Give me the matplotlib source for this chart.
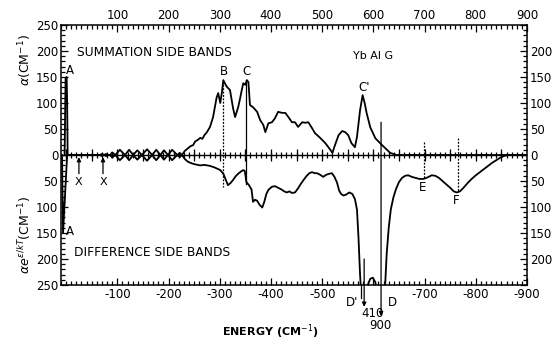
import numpy as np
import matplotlib
matplotlib.use("Agg")
import matplotlib.pyplot as plt
from matplotlib.ticker import MultipleLocator

plt.rcParams['font.family'] = ['DejaVu Sans']
plt.rcParams['mathtext.fontset'] = 'dejavusans'

# ---------------- data (energy in cm^-1, absorption in cm^-1) ----------------
# fringe pattern common to both spectra (low-energy interference)
fringe_E = [66, 70, 74, 78, 82, 86, 90, 96, 105, 115, 123, 131, 139, 148, 158, 168,
            176, 184, 191, 199, 207, 217, 222, 226]
fringe_a = [0, 2, 0, 2, 0, 0, 5, 0, 10, 0, 10, 0, 9, 0, 11, 0,
            10, 0, 9, 0, 10, 0, 4, 0]

sum_E_head = [-3, -1, 1, 2, 3, 10, 25, 40, 55]
sum_a_head = [0, 148, 150, 100, 0, 0, 0, 0, 0]
sum_E_tail = [232, 238, 243, 248, 252, 257, 262, 266, 270, 275, 281, 287, 291, 294,
              297, 301, 304, 307, 310, 314, 320, 326, 330, 336, 340, 343, 346, 350,
              353, 356, 359, 365, 373, 379, 385, 389, 395, 402, 408, 414, 422, 428,
              434, 441, 447, 453, 461, 467, 473, 480, 486, 496, 506, 516, 520, 525,
              532, 539, 545, 551, 557, 564, 568, 574, 579, 583, 587, 594, 604, 617,
              633, 645, 900]
sum_a_tail = [8, 13, 17, 19, 26, 29, 33, 31, 38, 44, 54, 73, 95, 111,
              119, 100, 119, 144, 138, 131, 125, 90, 73, 92, 110, 125, 138, 135,
              144, 140, 96, 92, 83, 67, 58, 44, 61, 63, 71, 83, 81, 81,
              73, 63, 63, 54, 63, 62, 63, 52, 42, 33, 23, 10, 4, 19,
              38, 46, 44, 38, 23, 15, 35, 86, 115, 100, 80, 53, 32, 19,
              4, 0, 0]

dif_E_head = [-8, -6, 2, 10, 25, 40, 55]
dif_a_head = [0, 150, 0, 0, 0, 0, 0]
dif_E_tail = [232, 238, 245, 252, 262, 270, 281, 290, 301, 307, 312, 316, 321, 326,
              331, 336, 341, 346, 349, 352, 357, 362, 365, 369, 373, 378, 383, 387,
              391, 395, 402, 408, 414, 420, 426, 431, 436, 441, 447, 453, 458, 463,
              469, 475, 480, 486, 490, 496, 502, 508, 514, 519, 524, 529, 533, 537,
              542, 547, 553, 559, 564, 568, 571, 574, 577, 584, 589, 594, 599, 604,
              608, 620, 623, 626, 630, 634, 639, 644, 650, 656, 662, 668, 675, 682,
              690, 698, 706, 714, 721, 728, 735, 742, 750, 757, 763, 769, 776, 784,
              792, 800, 808, 816, 824, 832, 840, 848, 855, 862, 900]
dif_a_tail = [8, 13, 16, 18, 20, 19, 21, 24, 29, 36, 48, 58, 54, 48,
              41, 36, 32, 29, 31, 52, 58, 66, 90, 86, 88, 96, 101, 90,
              75, 67, 61, 60, 63, 66, 70, 72, 70, 73, 72, 64, 56, 49,
              41, 35, 33, 35, 35, 38, 42, 38, 36, 35, 42, 53, 68, 75,
              78, 76, 72, 75, 85, 105, 160, 230, 280, 280, 250, 238, 236, 245,
              280, 280, 250, 190, 140, 105, 82, 66, 52, 44, 40, 39, 42, 44,
              46, 46, 43, 39, 40, 44, 50, 56, 63, 70, 72, 70, 63, 54,
              46, 39, 33, 27, 21, 15, 10, 5, 2, 0, 0]

sum_E = sum_E_head + fringe_E + sum_E_tail
sum_a = sum_a_head + fringe_a + sum_a_tail
dif_E = dif_E_head + fringe_E + dif_E_tail
dif_a = dif_a_head + fringe_a + dif_a_tail

top_ticks = [100, 200, 300, 400, 500, 600, 700, 800, 900]
top_labels = ['100', '200', '300', '400', '500', '600', '700', '800', '900']
bot_labels = ['-100', '-200', '-300', '-400', '-500', '', '-700', '-800', '-900']
left_ticks = [-250, -200, -150, -100, -50, 0, 50, 100, 150, 200, 250]
left_labels = ['250', '200', '150', '100', '50', '0', '50', '100', '150', '200', '250']
right_ticks = [-250, -200, -150, -100, -50, 0, 50, 100, 150, 200, 250]
right_labels = ['', '200', '150', '100', '50', '0', '50', '100', '150', '200', '']

# marker lines (energy, top end, bottom end)
dotted_marks = [(306, 142, -62), (698, 25, -46), (765, 32, -72)]
solid_marks = [(351, 144, -56)]
x_marks = [25, 72]

# ---------------- figure ----------------
W, H = 552, 341
fig = plt.figure(figsize=(W / 100, H / 100), dpi=100)
ax = fig.add_axes([61 / W, 1 - 285 / H, 466 / W, 260 / H])
ax.set_xlim(-10, 900)
ax.set_ylim(-250, 250)

lw = 1.3
ax.plot(sum_E, sum_a, color='black', lw=lw, solid_joinstyle='round')
ax.plot(dif_E, [-v for v in dif_a], color='black', lw=lw, solid_joinstyle='round')

# zero line with cross ticks
ax.axhline(0, color='black', lw=1.0)
xs_minor = np.arange(0, 900, 10)
ax.plot(xs_minor, np.zeros_like(xs_minor), ls='none', marker='|', ms=5,
        mew=0.9, color='black')
xs_major = np.arange(0, 900, 50)
ax.plot(xs_major, np.zeros_like(xs_major), ls='none', marker='|', ms=8,
        mew=0.9, color='black')

for e, y0, y1 in dotted_marks:
    ax.plot([e, e], [y0, y1], color='black', lw=0.9, ls=(0, (1.5, 1.2)))
for e, y0, y1 in solid_marks:
    ax.plot([e, e], [y0, y1], color='black', lw=0.9)

arrow = dict(arrowstyle='-|>', color='black', lw=0.9, mutation_scale=6,
             shrinkA=0, shrinkB=0)
for e in x_marks:
    ax.annotate('', xy=(e, -4), xytext=(e, -36), arrowprops=arrow)
    ax.text(e, -52, 'X', ha='center', va='center', fontsize=8)

# 410 and 900 arrows leaving the frame
ax.annotate('', xy=(582, -292), xytext=(582, -200), arrowprops=arrow,
            annotation_clip=False)
ax.annotate('', xy=(615, -310), xytext=(615, 63), arrowprops=arrow,
            annotation_clip=False)
ax.plot([576, 576], [-250, -275], color='black', lw=0.9, clip_on=False)

# labels
fs = 8.5
ax.text(8, 162, 'A', ha='center', va='center', fontsize=fs)
ax.text(7, -147, 'A', ha='center', va='center', fontsize=fs)
ax.text(309, 160, 'B', ha='center', va='center', fontsize=fs)
ax.text(353, 160, 'C', ha='center', va='center', fontsize=fs)
ax.text(582, 129, "C'", ha='center', va='center', fontsize=fs)
ax.text(697, -63, 'E', ha='center', va='center', fontsize=fs)
ax.text(762, -87, 'F', ha='center', va='center', fontsize=fs)
ax.text(22, 198, 'SUMMATION SIDE BANDS', ha='left', va='center', fontsize=8.8)
ax.text(15, -187, 'DIFFERENCE SIDE BANDS', ha='left', va='center', fontsize=8.8)
ax.text(600, 190, 'Yb Al G', ha='center', va='center', fontsize=8)
ax.text(558, -283, "D'", ha='center', va='center', fontsize=fs, clip_on=False)
ax.text(637, -283, 'D', ha='center', va='center', fontsize=fs, clip_on=False)
ax.text(598, -305, '410', ha='center', va='center', fontsize=fs, clip_on=False)
ax.text(613, -328, '900', ha='center', va='center', fontsize=fs, clip_on=False)

fig.text(270 / W, 1 - 332 / H, 'ENERGY (CM$^{-1}$)', ha='center', va='center',
         fontsize=8, fontweight='bold')
fig.text(25 / W, 1 - 60 / H, r'$\alpha$(CM$^{-1}$)', ha='center', va='center',
         rotation=90, fontsize=9)
fig.text(25 / W, 1 - 235 / H, r'$\alpha e^{\epsilon/kT}$(CM$^{-1}$)', ha='center',
         va='center', rotation=90, fontsize=9)

# axes / ticks
for s in ax.spines.values():
    s.set_linewidth(1.1)
ax.set_xticks(top_ticks)
ax.set_xticklabels(bot_labels)
ax.set_yticks(left_ticks)
ax.set_yticklabels(left_labels)
ax.xaxis.set_minor_locator(MultipleLocator(10))
ax.yaxis.set_minor_locator(MultipleLocator(10))
ax.tick_params(which='both', direction='in', top=True, right=True, labelsize=8.5,
               width=0.9, pad=2)
ax.tick_params(which='major', length=5)
ax.tick_params(which='minor', length=3)

secx = ax.secondary_xaxis('top')
secx.set_xticks(top_ticks)
secx.set_xticklabels(top_labels)
secx.xaxis.set_minor_locator(MultipleLocator(10))
secx.tick_params(which='both', direction='in', labelsize=8.5, length=0, pad=2)
secx.spines['top'].set_visible(False)

secy = ax.secondary_yaxis('right')
secy.set_yticks(right_ticks)
secy.set_yticklabels(right_labels)
secy.tick_params(which='both', direction='in', labelsize=8.5, length=0, pad=2)
secy.spines['right'].set_visible(False)

fig.savefig('out.png', dpi=100, facecolor='white')
